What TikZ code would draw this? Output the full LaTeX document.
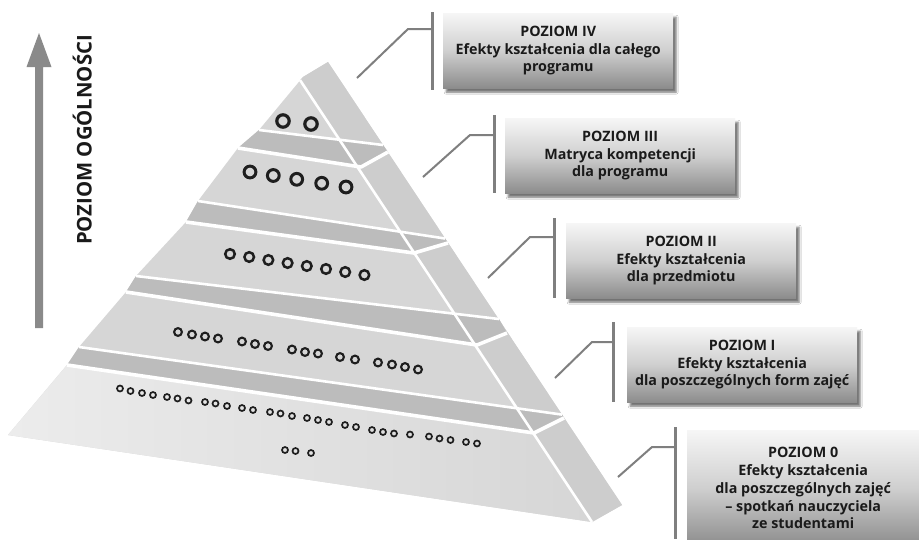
\documentclass[tikz,border=0pt]{standalone}
\usepackage{fontspec}
\setmainfont{Open Sans}
\usetikzlibrary{shadows.blur}
\definecolor{front}{HTML}{D6D6D6}
\definecolor{side}{HTML}{CDCDCD}
\definecolor{band}{HTML}{BCBCBC}
\definecolor{fadec}{HTML}{ECECEC}
\definecolor{ringc}{HTML}{1E1E1E}
\definecolor{barc}{HTML}{7F7F7F}
\definecolor{arrowc}{HTML}{8A8A8A}
\definecolor{boxtop}{HTML}{F6F6F6}
\definecolor{boxmid}{HTML}{CFCFCF}
\definecolor{boxbot}{HTML}{8C8C8C}
\definecolor{txt}{HTML}{1A1A1A}
\begin{document}
\begin{tikzpicture}[x=1pt,y=-1pt,
  band/.style={fill=band},
  wl/.style={draw=white, line width=2.6pt},
  wlb/.style={draw=white, line width=3.6pt, line join=round},
  barline/.style={draw=barc, line width=3pt},
  lead/.style={draw=barc, line width=2pt},
  boxnode/.style={anchor=north west, minimum width=230pt, minimum height=75pt, inner sep=0pt,
    align=center, top color=boxtop, bottom color=boxbot, middle color=boxmid,
    blur shadow={shadow xshift=3pt, shadow yshift=-4pt, shadow blur radius=2pt, shadow opacity=55},
    font=\bfseries\fontsize{14.3}{17.8}\selectfont, text=txt}
]
\useasboundingbox (0,0) rectangle (919,539);
\fill[white] (0,0) rectangle (919,539);

% ---------- pyramid corner points ----------
\coordinate (BL) at (8,435);
\coordinate (L0L) at (67,365);
\coordinate (U0L) at (79,347);
\coordinate (L1L) at (126,292);
\coordinate (U1L) at (136,276);
\coordinate (L2L) at (186,222);
\coordinate (U2L) at (198,201);
\coordinate (L3L) at (238,148);
\coordinate (U3L) at (259,130);
\coordinate (TF) at (298,83);
\coordinate (TR1) at (303,77);
\coordinate (TOP) at (328,62);
\coordinate (U3R) at (383,145);
\coordinate (R3R) at (388,152);
\coordinate (U2R) at (445,238.5);
\coordinate (R2R) at (448,243);
\coordinate (U1R) at (499,319);
\coordinate (R1R) at (507,333);
\coordinate (U0R) at (562,414.6);
\coordinate (R0R) at (564,418);
\coordinate (BR) at (622,505);
\coordinate (BD) at (592,522);
\coordinate (DT) at (300,80);
\coordinate (L3D) at (361,167);
\coordinate (L2D) at (414,253);
\coordinate (L1D) at (477,345);
\coordinate (L0D) at (534,433);

% silhouette
\fill[front] (BL) -- (L0L) -- (U0L) -- (L1L) -- (U1L) -- (L2L) -- (U2L) -- (L3L) -- (U3L)
  -- (TF) -- (TR1) -- (TOP) -- (BR) -- (BD) -- cycle;
% right face
\fill[side] (DT) -- (TR1) -- (TOP) -- (BR) -- (BD) -- cycle;
% lighter bottom-left of lowest slab
\shade[left color=fadec, right color=front] (L0L) -- (L0D) -- (BD) -- (BL) -- cycle;
% darker bands (top surfaces of the slabs)
\fill[band] (U3L) -- (U3R) -- (R3R) -- (L3D) -- (L3L) -- cycle;
\fill[band] (U2L) -- (U2R) -- (R2R) -- (L2D) -- (L2L) -- cycle;
\fill[band] (U1L) -- (U1R) -- (R1R) -- (L1D) -- (L1L) -- cycle;
\fill[band] (U0L) -- (U0R) -- (R0R) -- (L0D) -- (L0L) -- cycle;
% white edges
\draw[wl] (U3L) -- (U3R);
\draw[wl] (U2L) -- (U2R);
\draw[wl] (U1L) -- (U1R);
\draw[wl] (U0L) -- (U0R);
\draw[wlb] (L3L) -- (L3D) -- (R3R);
\draw[wlb] (L2L) -- (L2D) -- (R2R);
\draw[wlb] (L1L) -- (L1D) -- (R1R);
\draw[wlb] (L0L) -- (L0D) -- (R0R);
\draw[wl] (DT) -- (BD);

% ---------- rings ----------
\foreach \x/\y in {283/121, 311/124}
  \draw[ringc, line width=3.2pt] (\x,\y) circle[radius=6.2pt];
\foreach \x/\y in {250/172, 273.3/175.5, 296.7/179.3, 321.7/183.3, 346/187}
  \draw[ringc, line width=3pt] (\x,\y) circle[radius=5.9pt];
\foreach \i in {0,...,7}
  \draw[ringc, line width=2.5pt] ({230+19.2*\i},{254+3*\i}) circle[radius=4.8pt];
\foreach \x/\y in {178/332, 192/334.5, 205/336.5, 218/338.5,
                   242/341.5, 255/344, 268/346,
                   292/349.5, 305/352, 318/353.5,
                   340/357, 355/359.5,
                   378/362.5, 392/364.5, 405/367, 418/369.5}
  \draw[ringc, line width=2.1pt] (\x,\y) circle[radius=3.9pt];
\foreach \x/\y in {120/388.5, 130.5/391, 142/393, 153/395,
                   167/397, 177.5/398.5, 188.5/400.5,
                   205/402, 215.5/403.5, 227/406,
                   242/408, 253/410,
                   270/412, 280.5/413.5, 292/416,
                   307/418, 318/420, 329/422,
                   345/425, 356/427,
                   372/430, 383/432, 394/433.5,
                   410/434.5,
                   429/436.5, 439.5/438.5, 450.5/440,
                   466/442, 477/443.5,
                   285/450, 295.5/451, 311/453}
  \draw[ringc, line width=1.7pt] (\x,\y) circle[radius=3pt];

% ---------- axis arrow ----------
\coordinate (A1) at (35,328);
\coordinate (A2) at (43,328);
\coordinate (A3) at (43,67);
\coordinate (A4) at (51.5,67);
\coordinate (AT) at (39,33);
\coordinate (A5) at (26.5,67);
\coordinate (A6) at (35,67);
\fill[arrowc] (A1) -- (A2) -- (A3) -- (A4) -- (AT) -- (A5) -- (A6) -- cycle;
\node[rotate=90, anchor=base, inner sep=0pt, text=txt,
      font=\bfseries\fontsize{20.3}{21}\selectfont] (axis) at (91.5,140) {POZIOM OGÓLNOŚCI};

% ---------- boxes ----------
\node[boxnode] (b4) at (443,13) {POZIOM IV\\Efekty kształcenia dla całego\\programu};
\node[boxnode] (b3) at (505,118) {POZIOM III\\Matryca kompetencji\\dla programu};
\node[boxnode] (b2) at (566,223) {POZIOM II\\Efekty kształcenia\\dla przedmiotu};
\node[boxnode] (b1) at (627,327) {POZIOM I\\Efekty kształcenia\\dla poszczególnych form zajęć};
\node[boxnode, minimum width=232pt, minimum height=116pt] (b0) at (687,430)
  {POZIOM 0\\Efekty kształcenia\\dla poszczególnych zajęć\\– spotkań nauczyciela\\ze studentami};

% ---------- brackets and leaders ----------
\coordinate (t4) at (432,12);  \coordinate (e4) at (432,90);
\coordinate (j4) at (432,29);  \coordinate (k4) at (408,29);  \coordinate (p4) at (357,78);
\coordinate (t3) at (494,115); \coordinate (e3) at (494,193);
\coordinate (j3) at (494,135); \coordinate (k3) at (470,135); \coordinate (p3) at (423,177);
\coordinate (t2) at (554,218); \coordinate (e2) at (554,298);
\coordinate (j2) at (554,237); \coordinate (k2) at (530,237); \coordinate (p2) at (488,278);
\coordinate (t1) at (613,322); \coordinate (e1) at (613,402);
\coordinate (j1) at (613,342); \coordinate (k1) at (592,342); \coordinate (p1) at (555,378);
\coordinate (t0) at (675,427); \coordinate (e0) at (675,539);
\coordinate (j0) at (675,447); \coordinate (k0) at (652,447); \coordinate (p0) at (618,477);
\foreach \n in {4,3,2,1,0}{
  \draw[barline] (t\n) -- (e\n);
  \draw[lead] (p\n) -- (k\n) -- (j\n);
}
\end{tikzpicture}
\end{document}
